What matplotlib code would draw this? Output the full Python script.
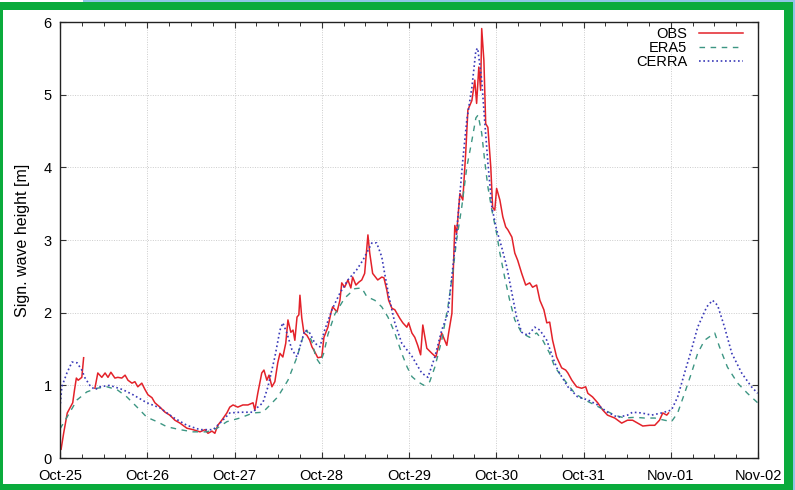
import numpy as np
import matplotlib
matplotlib.use('Agg')
import matplotlib.pyplot as plt
from matplotlib.patches import Rectangle
from matplotlib.ticker import MultipleLocator

plt.rcParams['font.family'] = ['Liberation Sans', 'DejaVu Sans']

nan = np.nan

# time axis in hours since Oct-25 00:00
obs_h = [0.3, 1, 2, 3.5, 4, 4.5, 5, 6, 6.5, 8,
         9.6, 10.4, 11.5, 12.4, 13.2, 14, 15.1, 15.9, 17, 17.9,
         18.7, 19.8, 20.6, 21.4, 22.5, 23.4, 24.2, 25.3, 26.1, 27.5,
         28.9, 30.2, 31.6, 33, 34.9, 36.6, 38.5, 39.9, 40.7, 41.8,
         42.6, 43.4, 44.5, 45.9, 46.7, 47.6, 48.9, 50.3, 51.7, 53.1,
         53.6, 54.4, 55.5, 56.1, 56.9, 57.5, 58.3, 59.1, 59.9, 60.5,
         61.3, 62.1, 62.7, 63.5, 64.1, 64.6, 65.2, 65.7, 66, 66.5,
         67.1, 67.9, 68.7, 69.3, 70.1, 70.9, 72, 72.6, 73.7, 74.5,
         75, 76.2, 77, 77.5, 78.3, 79.2, 80, 80.5, 81.4, 82.2,
         83, 83.8, 84.7, 85.2, 86, 87.4, 88.5, 89.1, 89.9, 90.4,
         91.3, 92.1, 92.9, 93.5, 94.3, 95.4, 95.9, 96.8, 97.6, 98.4,
         99.2, 99.8, 100.9, 102.3, 103.4, 105, 106.4, 106.9, 107.8, 108.6,
         109.1, 110, 110.8, 111.6, 112.2, 113.3, 114.1, 114.6, 115.2, 115.7,
         116, 116.6, 117.1, 117.7, 118.5, 119, 119.6, 120.1, 121, 121.8,
         122.6, 123.2, 124.3, 125.1, 125.9, 127, 128.1, 129.2, 130, 131.1,
         132, 133.1, 133.9, 134.7, 135.5, 136.6, 138, 139.1, 139.7, 140.8,
         142.1, 143.5, 144.6, 145.2, 146.5, 147.9, 149.3, 150.6, 152.6, 154.5,
         156.1, 157.5, 158.9, 160.3, 162.2, 163.6, 164.9, 165.8, 166.9, 167.4]
obs_v = [0.12, 0.34, 0.62, 0.76, 0.94, 1.10, 1.07, 1.11, 1.38, nan,
         0.96, 1.17, 1.11, 1.17, 1.11, 1.18, 1.10, 1.11, 1.10, 1.14,
         1.07, 1.03, 1.05, 0.98, 1.03, 0.94, 0.87, 0.83, 0.76, 0.70,
         0.63, 0.59, 0.52, 0.48, 0.41, 0.39, 0.36, 0.39, 0.34, 0.37,
         0.34, 0.45, 0.52, 0.62, 0.70, 0.73, 0.70, 0.73, 0.73, 0.76,
         0.66, 0.89, 1.17, 1.21, 1.07, 1.14, 0.98, 1.05, 1.31, 1.44,
         1.39, 1.58, 1.90, 1.73, 1.76, 1.62, 1.94, 1.97, 2.24, 1.93,
         1.72, 1.69, 1.62, 1.53, 1.46, 1.38, 1.39, 1.66, 1.80, 1.99,
         2.08, 2.01, 2.17, 2.41, 2.35, 2.45, 2.34, 2.49, 2.38, 2.42,
         2.45, 2.54, 3.07, 2.82, 2.54, 2.45, 2.49, 2.48, 2.31, 2.17,
         2.06, 2.04, 1.97, 1.92, 1.86, 1.80, 1.86, 1.72, 1.66, 1.55,
         1.42, 1.83, 1.51, 1.44, 1.39, 1.72, 1.55, 1.72, 1.99, 3.20,
         3.09, 3.64, 3.55, 4.20, 4.79, 4.92, 5.20, 4.88, 5.38, 5.06,
         5.91, 5.47, 4.60, 4.55, 4.00, 3.45, 3.41, 3.71, 3.55, 3.32,
         3.18, 3.14, 3.04, 2.82, 2.72, 2.54, 2.38, 2.41, 2.35, 2.38,
         2.17, 2.04, 1.86, 1.87, 1.62, 1.39, 1.24, 1.21, 1.17, 1.07,
         0.98, 0.96, 0.98, 0.89, 0.84, 0.76, 0.66, 0.59, 0.55, 0.48,
         0.52, 0.52, 0.48, 0.44, 0.45, 0.45, 0.52, 0.62, 0.59, 0.62]

era5_h = [0, 1.9, 4.7, 7.4, 10.2, 12.9, 15.7, 18.4, 21.2, 23.9,
          26.7, 29.4, 33, 36.6, 40.4, 43.2, 45.9, 49.5, 53.1, 55.8,
          57.2, 59.9, 62.7, 65.2, 66.8, 67.9, 69.3, 70.4, 71.5, 72.6,
          73.7, 75.6, 78.3, 81.1, 83, 84.4, 86.6, 88.5, 90.2, 92.1,
          94, 95.5, 96.8, 98.4, 100.1, 101.7, 103.1, 105, 106.7, 108,
          109.1, 110.5, 111.9, 113.3, 114.4, 115, 116, 116.8, 117.7, 118.8,
          120.1, 121, 122.3, 123.7, 125.1, 127, 129.2, 131.1, 132.8, 134.7,
          136.1, 138.8, 141.6, 144.3, 147.1, 149.8, 152.6, 155.3, 158.1, 160.8,
          163.6, 166.3, 168.2, 169.9, 171.8, 173.7, 175.4, 177.3, 180.1, 181.4,
          183.6, 186.4, 189.1, 191.9]
era5_v = [0.40, 0.56, 0.80, 0.91, 0.96, 0.98, 0.94, 0.84, 0.70, 0.56,
          0.50, 0.43, 0.39, 0.36, 0.36, 0.41, 0.50, 0.55, 0.62, 0.63,
          0.70, 0.84, 1.07, 1.39, 1.66, 1.76, 1.60, 1.38, 1.30, 1.45,
          1.70, 1.98, 2.20, 2.33, 2.34, 2.22, 2.17, 2.08, 1.94, 1.72,
          1.44, 1.25, 1.12, 1.05, 1.00, 1.05, 1.25, 1.62, 2.08, 2.54,
          3.00, 3.45, 4.00, 4.37, 4.68, 4.72, 4.47, 4.10, 3.73, 3.41,
          3.09, 2.82, 2.49, 2.17, 1.90, 1.72, 1.66, 1.72, 1.62, 1.44,
          1.25, 1.07, 0.89, 0.80, 0.73, 0.66, 0.59, 0.55, 0.56, 0.55,
          0.55, 0.52, 0.50, 0.62, 0.89, 1.17, 1.44, 1.62, 1.72, 1.53,
          1.25, 1.03, 0.89, 0.76]

cerra_h = [0, 0.5, 1.9, 3.3, 4.7, 6, 6.9, 8.2, 9.6, 11,
           13.7, 17.3, 20.1, 23.9, 27.5, 31.1, 34.9, 38.5, 42.1, 44,
           46.7, 49.5, 53.1, 54.4, 55.8, 57.2, 59.1, 60.5, 61.3, 62.4,
           63.8, 65.2, 66.5, 67.4, 68.7, 70.1, 71.5, 72.8, 74.8, 77,
           79.2, 81.6, 83.3, 85.8, 87.1, 88.5, 89.3, 90.7, 92.1, 94,
           96.8, 99.5, 101.2, 103.1, 105, 106.7, 108, 109.1, 110.8, 111.9,
           113.3, 114.4, 114.9, 116, 116.8, 117.7, 118.8, 120.1, 121.5, 122.9,
           124.3, 125.6, 127, 128.7, 130.6, 132, 133.9, 135.5, 136.9, 139.7,
           142.4, 145.2, 147.9, 150.6, 153.4, 156.1, 157.5, 160, 162.7, 165.5,
           168.2, 169.9, 171.8, 173.7, 175.4, 177.9, 179.5, 180.9, 182.8, 184.8,
           187.5, 190.2, 191.9]
cerra_v = [0.69, 0.98, 1.17, 1.32, 1.31, 1.21, 1.10, 1.00, 0.94, 0.98,
           1.00, 0.94, 0.87, 0.76, 0.69, 0.56, 0.45, 0.39, 0.39, 0.48,
           0.62, 0.63, 0.63, 0.70, 0.76, 0.98, 1.39, 1.76, 1.86, 1.72,
           1.49, 1.39, 1.62, 1.76, 1.72, 1.58, 1.53, 1.76, 2.04, 2.27,
           2.45, 2.59, 2.72, 2.96, 2.96, 2.77, 2.54, 2.17, 1.86, 1.58,
           1.40, 1.17, 1.11, 1.39, 1.76, 1.99, 2.60, 3.10, 4.10, 4.65,
           5.10, 5.61, 5.64, 5.20, 4.65, 4.06, 3.45, 3.14, 2.90, 2.63,
           2.27, 1.94, 1.73, 1.69, 1.80, 1.76, 1.62, 1.39, 1.21, 0.98,
           0.84, 0.80, 0.73, 0.63, 0.56, 0.59, 0.63, 0.62, 0.59, 0.62,
           0.66, 0.84, 1.17, 1.49, 1.80, 2.08, 2.17, 2.10, 1.80, 1.44,
           1.17, 0.98, 0.89]

day_labels = ['Oct-25', 'Oct-26', 'Oct-27', 'Oct-28', 'Oct-29',
              'Oct-30', 'Oct-31', 'Nov-01', 'Nov-02']

W, H = 795, 490
fig = plt.figure(figsize=(W / 100, H / 100), dpi=100)
fig.patch.set_facecolor('white')

# green frame around the picture
fig.patches.append(Rectangle((83 / W, 1 - 2 / H), 1, 2 / H, transform=fig.transFigure,
                             facecolor='#8fc6e6', edgecolor='none', zorder=-3))
fig.patches.append(Rectangle((793 / W, 0), 2 / W, 1, transform=fig.transFigure,
                             facecolor='#8fc6e6', edgecolor='none', zorder=-3))
fig.patches.append(Rectangle((0, 0), 793 / W, 1 - 2 / H, transform=fig.transFigure,
                             facecolor='#0aab3c', edgecolor='none', zorder=-2))
fig.patches.append(Rectangle((3 / W, 6 / H), 781 / W, 1 - 16 / H, transform=fig.transFigure,
                             facecolor='white', edgecolor='none', zorder=-1))

ax = fig.add_axes([60 / W, 1 - 458 / H, 698 / W, 436 / H])
ax.set_facecolor('none')

ax.plot(np.array(obs_h) / 24, obs_v, color='#e3222a', lw=1.1, label='OBS')
ax.plot(np.array(era5_h) / 24, era5_v, color='#3d9683', lw=1.0, dashes=(4, 4), label='ERA5')
ax.plot(np.array(cerra_h) / 24, cerra_v, color='#3a3ab8', lw=1.2, dashes=(1, 1.6), label='CERRA')

ax.set_xlim(0, 8)
ax.set_ylim(0, 6)
ax.set_xticks(range(9))
ax.set_xticklabels(day_labels)
ax.xaxis.set_minor_locator(MultipleLocator(0.25))
ax.set_yticks(range(7))
ax.tick_params(which='both', direction='in', top=True, right=True, labelsize=10.5,
               color='#333333')
ax.tick_params(which='major', length=4, width=0.8)
ax.tick_params(which='minor', length=3, width=0.7)
ax.tick_params(axis='x', which='major', pad=8)
ax.tick_params(axis='y', which='major', pad=6)
ax.grid(True, which='major', color='#cccccc', lw=0.7, ls=(0, (1, 1.5)))
for s in ax.spines.values():
    s.set_linewidth(1.0)
    s.set_color('#222222')

ax.set_ylabel('Sign. wave height [m]', fontsize=11.5, labelpad=10)

leg = ax.legend(loc='upper right', markerfirst=False, frameon=False, fontsize=10.5,
                handlelength=3.0, handletextpad=0.8, labelspacing=0.0,
                borderaxespad=0.3, bbox_to_anchor=(0.993, 1.012))

fig.savefig('out.png', dpi=100)
